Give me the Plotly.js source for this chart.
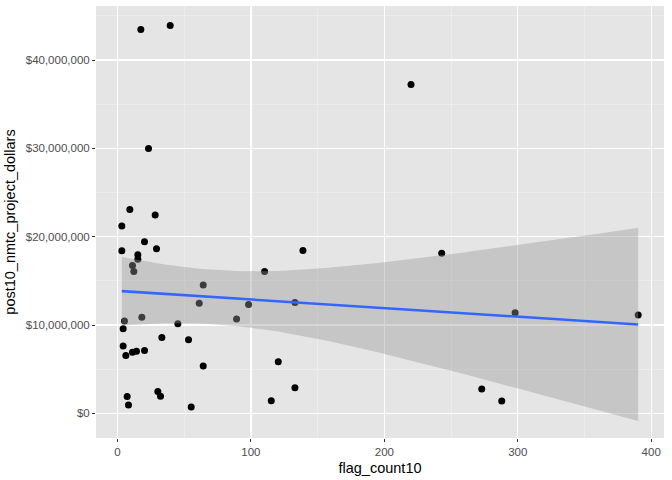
<!DOCTYPE html>
<html>
<head>
<meta charset="utf-8">
<script src="https://cdn.plot.ly/plotly-3.0.1.min.js"></script>
<style>
  body { margin: 0; background: #ffffff; }
  #plot { width: 672px; height: 480px; }
</style>
</head>
<body>
<div id="plot"></div>
<script>
// values (dollars in millions)
const flagCount = [17.5, 39.5, 23.25, 9.25, 28.25, 3.25, 20.25, 3.25, 29.25, 15.25,
  15.25, 11.25, 12.25, 110.25, 64.25, 61.25, 98.25, 89.25, 5.25, 18.25,
  4.25, 45.25, 33.25, 53.25, 4.25, 6.25, 11.25, 14.25, 20.25, 64.25,
  120.5, 133, 30.25, 32.25, 7.25, 8.25, 55.25, 115.25, 220, 139,
  243, 133, 298, 390.25, 273, 288];
const dollarsM = [43.45, 43.9, 30.0, 23.07, 22.45, 21.2, 19.43, 18.4, 18.63, 17.95,
  17.45, 16.73, 16.05, 16.05, 14.52, 12.47, 12.32, 10.68, 10.46, 10.87,
  9.58, 10.15, 8.59, 8.33, 7.64, 6.54, 6.92, 7.03, 7.11, 5.36,
  5.85, 2.9, 2.47, 1.94, 1.9, 0.95, 0.72, 1.44, 37.23, 18.45,
  18.14, 12.54, 11.4, 11.14, 2.77, 1.4];
const xTicks = [0, 100, 200, 300, 400];
const yTicks = [0, 10e6, 20e6, 30e6, 40e6];
const yTickText = ['$0', '$10,000,000', '$20,000,000', '$30,000,000', '$40,000,000'];

const dollars = dollarsM.map(v => v * 1e6);

// linear fit + 95% confidence band, like geom_smooth(method = "lm")
const n = flagCount.length;
const xbar = flagCount.reduce((a, b) => a + b, 0) / n;
const ybar = dollars.reduce((a, b) => a + b, 0) / n;
let sxx = 0, sxy = 0;
for (let i = 0; i < n; i++) {
  sxx += (flagCount[i] - xbar) ** 2;
  sxy += (flagCount[i] - xbar) * (dollars[i] - ybar);
}
const slope = sxy / sxx;
const icept = ybar - slope * xbar;
let sse = 0;
for (let i = 0; i < n; i++) sse += (dollars[i] - icept - slope * flagCount[i]) ** 2;
const s = Math.sqrt(sse / (n - 2));
const tq = 2.0154; // t(0.975, df = 44)

const xmin = Math.min(...flagCount), xmax = Math.max(...flagCount);
const fx = [], fy = [], lo = [], hi = [];
for (let k = 0; k <= 80; k++) {
  const x = xmin + (xmax - xmin) * k / 80;
  const y = icept + slope * x;
  const se = s * Math.sqrt(1 / n + (x - xbar) ** 2 / sxx);
  fx.push(x); fy.push(y); lo.push(y - tq * se); hi.push(y + tq * se);
}

const points = {
  x: flagCount, y: dollars, type: 'scatter', mode: 'markers',
  marker: { color: '#000000', size: 7 },
  hoverinfo: 'x+y', showlegend: false
};
const bandLo = {
  x: fx, y: lo, type: 'scatter', mode: 'lines',
  line: { width: 0 }, hoverinfo: 'skip', showlegend: false
};
const bandHi = {
  x: fx, y: hi, type: 'scatter', mode: 'lines', fill: 'tonexty',
  fillcolor: 'rgba(153,153,153,0.4)',
  line: { width: 0 }, hoverinfo: 'skip', showlegend: false
};
const fit = {
  x: fx, y: fy, type: 'scatter', mode: 'lines',
  line: { color: '#3366FF', width: 2.6 }, hoverinfo: 'skip', showlegend: false
};

const axisBase = {
  showline: false, zeroline: false,
  gridcolor: '#ffffff', gridwidth: 1.2,
  ticks: 'outside', ticklen: 3, tickwidth: 1, tickcolor: '#333333',
  tickfont: { family: 'Liberation Sans, Arial, sans-serif', size: 11.5, color: '#4D4D4D' }
};

const layout = {
  width: 672, height: 480,
  margin: { l: 96, r: 8, t: 6, b: 42 },
  paper_bgcolor: '#ffffff', plot_bgcolor: '#E5E5E5',
  xaxis: Object.assign({}, axisBase, {
    range: [-16.1, 409.6],
    tickvals: xTicks,
    minor: { dtick: 50, tick0: 0, showgrid: true, gridcolor: '#F2F2F2', gridwidth: 0.6 },
    title: { text: 'flag_count10', standoff: 6,
      font: { family: 'Liberation Sans, Arial, sans-serif', size: 14.5, color: '#000000' } }
  }),
  yaxis: Object.assign({}, axisBase, {
    range: [-2.79e6, 46.12e6],
    tickvals: yTicks, ticktext: yTickText,
    minor: { dtick: 5e6, tick0: 0, showgrid: true, gridcolor: '#F2F2F2', gridwidth: 0.6 },
    title: { text: 'post10_nmtc_project_dollars', standoff: 6,
      font: { family: 'Liberation Sans, Arial, sans-serif', size: 14.5, color: '#000000' } }
  })
};

Plotly.newPlot('plot', [points, bandLo, bandHi, fit], layout, { displayModeBar: false, staticPlot: true });
</script>
</body>
</html>
